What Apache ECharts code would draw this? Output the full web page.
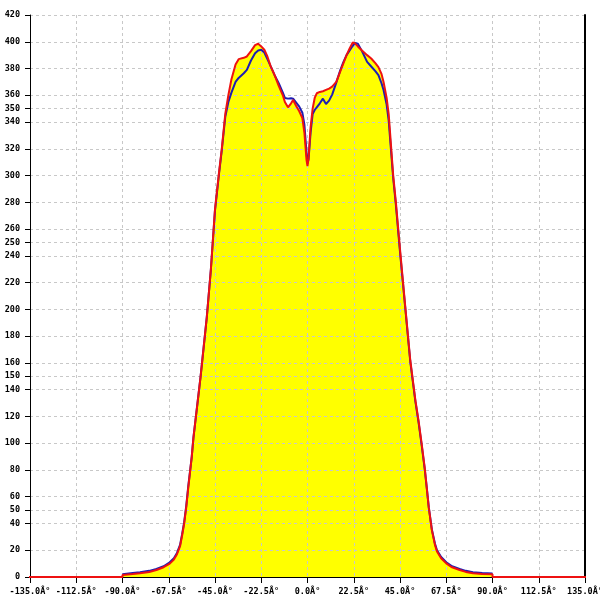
<!DOCTYPE html>
<html>
<head>
<meta charset="utf-8">
<script src="https://cdn.jsdelivr.net/npm/echarts@6/dist/echarts.min.js"></script>
<style>html,body{margin:0;padding:0;background:#fff;}#c{width:600px;height:600px;}</style>
</head>
<body>
<div id="c"></div>
<script>
// Angles (degrees) shared by both curves
const angles = [-90, -85, -81.5, -77, -73.5, -70, -67, -65, -63.5, -62, -61, -60, -59, -58, -56.3, -55.5, -52, -49, -47, -45, -43, -41.7, -40, -38.5, -37, -35, -33.5, -31, -29.5, -27.5, -25.5, -24, -22.5, -21, -19.5, -18, -16, -14, -12, -11, -9.5, -8, -7, -5.5, -4, -2.5, -1.5, -0.5, 0, 0.5, 1.5, 2.5, 3.5, 4.5, 6, 7.5, 9, 10.5, 12, 14, 16, 17.5, 19, 20.5, 22, 23, 24.5, 26.5, 29, 31, 33, 34.5, 36, 37, 38.5, 39.5, 41.7, 43, 45, 47.5, 50, 52.5, 54, 55.5, 57, 58, 59, 60.5, 62, 63, 65, 67.5, 70, 74, 77, 80.5, 85, 90];
const redValues = [1.5, 2.2, 2.8, 3.8, 5.2, 7.3, 10, 13, 17, 23, 31, 40, 52, 67, 90, 104, 150, 194, 230, 275, 303, 320, 346, 360, 372, 383, 387, 388, 389, 393, 397.5, 398.5, 396.5, 394, 389, 382, 375, 367, 360, 355, 351, 354, 356.5, 352, 348, 343, 332, 312, 307, 313, 336, 350, 358, 361.5, 362.5, 363, 364, 365, 366.5, 370, 378, 384, 390, 395, 399.5, 399, 396.5, 393.5, 390, 387.5, 384, 381, 376, 370, 358, 346, 300, 280, 245, 203, 162, 132, 117, 100, 82, 67, 52, 35, 24, 19, 14, 10.2, 7.5, 5.2, 3.8, 2.8, 2.3, 2.0];
const blueValues = [2.0, 3, 3.6, 4.6, 6, 8, 11, 14, 18, 24, 32, 41, 53, 68, 90, 104, 150, 194, 230, 274, 302, 319, 344, 355, 362, 370, 373, 376.5, 379, 386, 391.4, 393.5, 394, 392, 387, 382, 375, 369, 362, 358, 357.5, 357.8, 357.5, 354.5, 351.5, 347, 338, 318, 309, 312, 332, 346, 349, 351, 354, 357.5, 353.5, 356, 360.5, 369.5, 379, 385, 390, 393.5, 397, 399, 398.5, 393, 385, 381.5, 378, 375, 369, 364, 353, 341, 298, 278, 243, 202, 161, 131, 116, 99, 81, 67, 52, 35.5, 25, 20, 15, 11, 8.3, 6, 4.6, 3.6, 3, 2.6];
// Red baseline continues at zero beyond the measured range
const baselineAngles = [-180, 180];
// Tick labels
const xTicks = [-135, -112.5, -90, -67.5, -45, -22.5, 0, 22.5, 45, 67.5, 90, 112.5, 135];
const yExtraTicks = [50, 150, 250, 350];

const redData = [[baselineAngles[0], 0], [angles[0], 0]]
  .concat(angles.map((a, i) => [a, redValues[i]]))
  .concat([[angles[angles.length - 1], 0], [baselineAngles[1], 0]]);
const blueData = angles.map((a, i) => [a, blueValues[i]]);

const labelFont = { fontFamily: 'DejaVu Sans Mono', fontSize: 8.5, fontWeight: 'bold', color: '#000' };
const gridDash = { color: '#c8c8c8', type: [3, 3], width: 1 };

const chart = echarts.init(document.getElementById('c'), null, { renderer: 'canvas' });
chart.setOption({
  backgroundColor: '#ffffff',
  animation: false,
  grid: { left: 30, right: 15, top: 15, bottom: 23, containLabel: false, outerBoundsMode: 'none' },
  xAxis: {
    type: 'value', min: xTicks[0], max: xTicks[xTicks.length - 1], interval: 22.5, z: 2,
    axisLine: { show: true, onZero: false, lineStyle: { color: '#000', width: 1 } },
    axisTick: { show: true, length: 6, lineStyle: { color: '#000' } },
    axisLabel: Object.assign({ margin: 10, showMinLabel: true, showMaxLabel: true, hideOverlap: false,
      formatter: v => v.toFixed(1) + 'Â°' }, labelFont),
    splitLine: { show: true, lineStyle: gridDash }
  },
  yAxis: [
    {
      type: 'value', min: 0, max: 420, interval: 20, position: 'left', z: 2,
      axisLine: { show: true, onZero: false, lineStyle: { color: '#000', width: 1 } },
      axisTick: { show: true, length: 5, lineStyle: { color: '#000' } },
      axisLabel: Object.assign({ margin: 10, showMaxLabel: true }, labelFont),
      splitLine: { show: true, lineStyle: gridDash }
    },
    {
      type: 'value', min: 0, max: 420, interval: 50, position: 'left', z: 2,
      axisLine: { show: false, onZero: false },
      axisTick: { show: true, length: 5, lineStyle: { color: '#000' } },
      axisLabel: Object.assign({ margin: 10, showMaxLabel: false,
        formatter: v => yExtraTicks.indexOf(v) >= 0 ? String(v) : '' }, labelFont),
      splitLine: { show: true, lineStyle: gridDash }
    },
    {
      type: 'value', min: 0, max: 420, position: 'right', z: 2,
      axisLine: { show: true, onZero: false, lineStyle: { color: '#000', width: 2 } },
      axisTick: { show: false }, axisLabel: { show: false }, splitLine: { show: false }
    }
  ],
  series: [
    {
      name: 'fill', type: 'line', data: redData, z: 1, symbol: 'none', silent: true,
      lineStyle: { width: 0, opacity: 0 },
      areaStyle: { color: '#ffff00', opacity: 1 }
    },
    {
      name: 'blue', type: 'line', data: blueData, z: 3, symbol: 'none', clip: false,
      lineStyle: { color: '#1c1cb4', width: 2 }
    },
    {
      name: 'red', type: 'line', data: redData, z: 4, symbol: 'none', clip: false,
      lineStyle: { color: '#ee1111', width: 2 }
    }
  ]
});
</script>
</body>
</html>
